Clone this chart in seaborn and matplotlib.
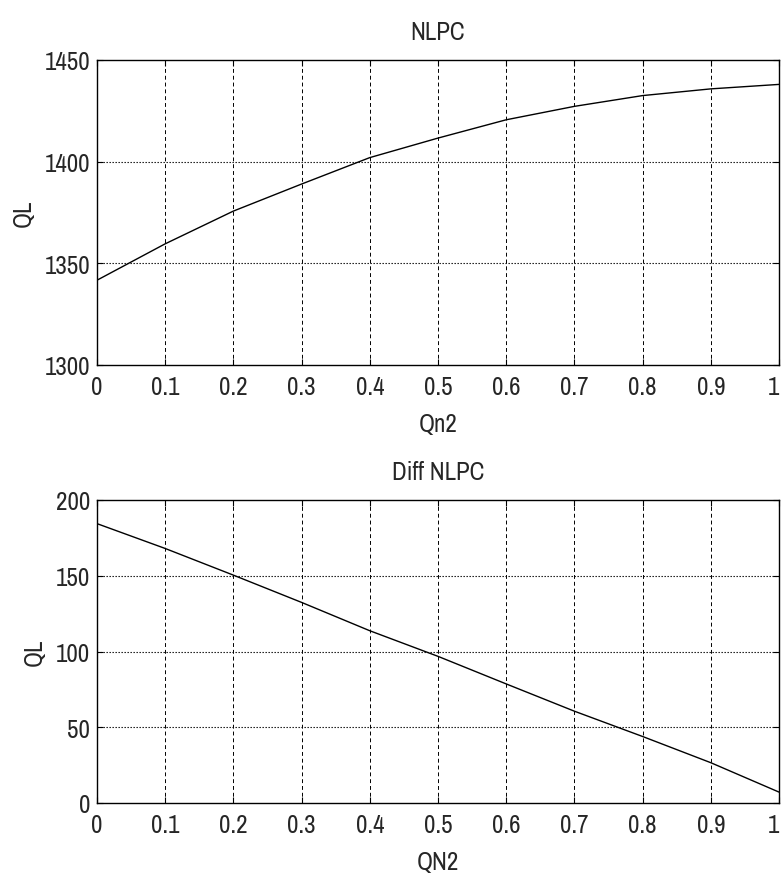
import matplotlib
matplotlib.use("Agg")
import matplotlib.pyplot as plt
import seaborn as sns
import pandas as pd
from matplotlib import font_manager

qn2 = [0.0, 0.1, 0.2, 0.3, 0.4, 0.5, 0.6, 0.7, 0.8, 0.9, 1.0]
ql_nlpc = [1341.7, 1359.6, 1375.7, 1389.0, 1402.0, 1411.6, 1420.6, 1427.2, 1432.5, 1435.8, 1438.0]
ql_diff = [184.4, 168.0, 150.4, 132.4, 113.7, 96.8, 78.6, 60.6, 43.9, 26.6, 7.2]
xticks = [0, 0.1, 0.2, 0.3, 0.4, 0.5, 0.6, 0.7, 0.8, 0.9, 1]
xticklabels = ["0", "0.1", "0.2", "0.3", "0.4", "0.5", "0.6", "0.7", "0.8", "0.9", "1"]
yticks_top = [1300, 1350, 1400, 1450]
yticks_bot = [0, 50, 100, 150, 200]

sns.set_style("white")
names = {f.name for f in font_manager.fontManager.ttflist}
fam = "Archivo Narrow" if "Archivo Narrow" in names else ("PT Sans Narrow" if "PT Sans Narrow" in names else "Liberation Sans")
plt.rcParams["font.family"] = [fam, "DejaVu Sans"]
FS = 18

df1 = pd.DataFrame({"x": qn2, "y": ql_nlpc})
df2 = pd.DataFrame({"x": qn2, "y": ql_diff})

fig = plt.figure(figsize=(7.81, 8.78), dpi=100)
ax1 = fig.add_axes([97/781, 1 - 366/878, (779-97)/781, (366-61)/878])
ax2 = fig.add_axes([97/781, 1 - 804/878, (779-97)/781, (804-501)/878])

def style(ax, yticks, ylim, title, xlabel):
    ax.set_xlim(0, 1)
    ax.set_ylim(*ylim)
    ax.set_xticks(xticks)
    ax.set_xticklabels(xticklabels)
    ax.get_xticklabels()[-1].set_horizontalalignment("right")
    ax.set_yticks(yticks)
    ax.tick_params(axis="x", direction="in", length=4, labelsize=FS, color="black", pad=7,
                   top=True, bottom=True)
    ax.tick_params(axis="y", direction="in", length=4, labelsize=FS, color="black", pad=5,
                   left=True, right=True)
    for sp in ax.spines.values():
        sp.set_color("black")
        sp.set_linewidth(1.0)
    for xv in xticks[1:-1]:
        ax.axvline(xv, color="black", lw=0.7, ls=(0, (4, 3)), zorder=0)
    for yv in yticks[1:-1]:
        ax.axhline(yv, color="black", lw=0.8, ls=(0, (1.2, 1.5)), zorder=0)
    ax.set_title(title, fontsize=FS, pad=15)
    ax.set_xlabel(xlabel, fontsize=FS, labelpad=10)
    ax.set_ylabel("QL", fontsize=FS, labelpad=7)

sns.lineplot(data=df1, x="x", y="y", ax=ax1, color="black", lw=1.0)
sns.lineplot(data=df2, x="x", y="y", ax=ax2, color="black", lw=1.0)
style(ax1, yticks_top, (1300, 1450), "NLPC", "Qn2")
style(ax2, yticks_bot, (0, 200), "Diff NLPC", "QN2")

fig.savefig("out.png", dpi=100, facecolor="white")
